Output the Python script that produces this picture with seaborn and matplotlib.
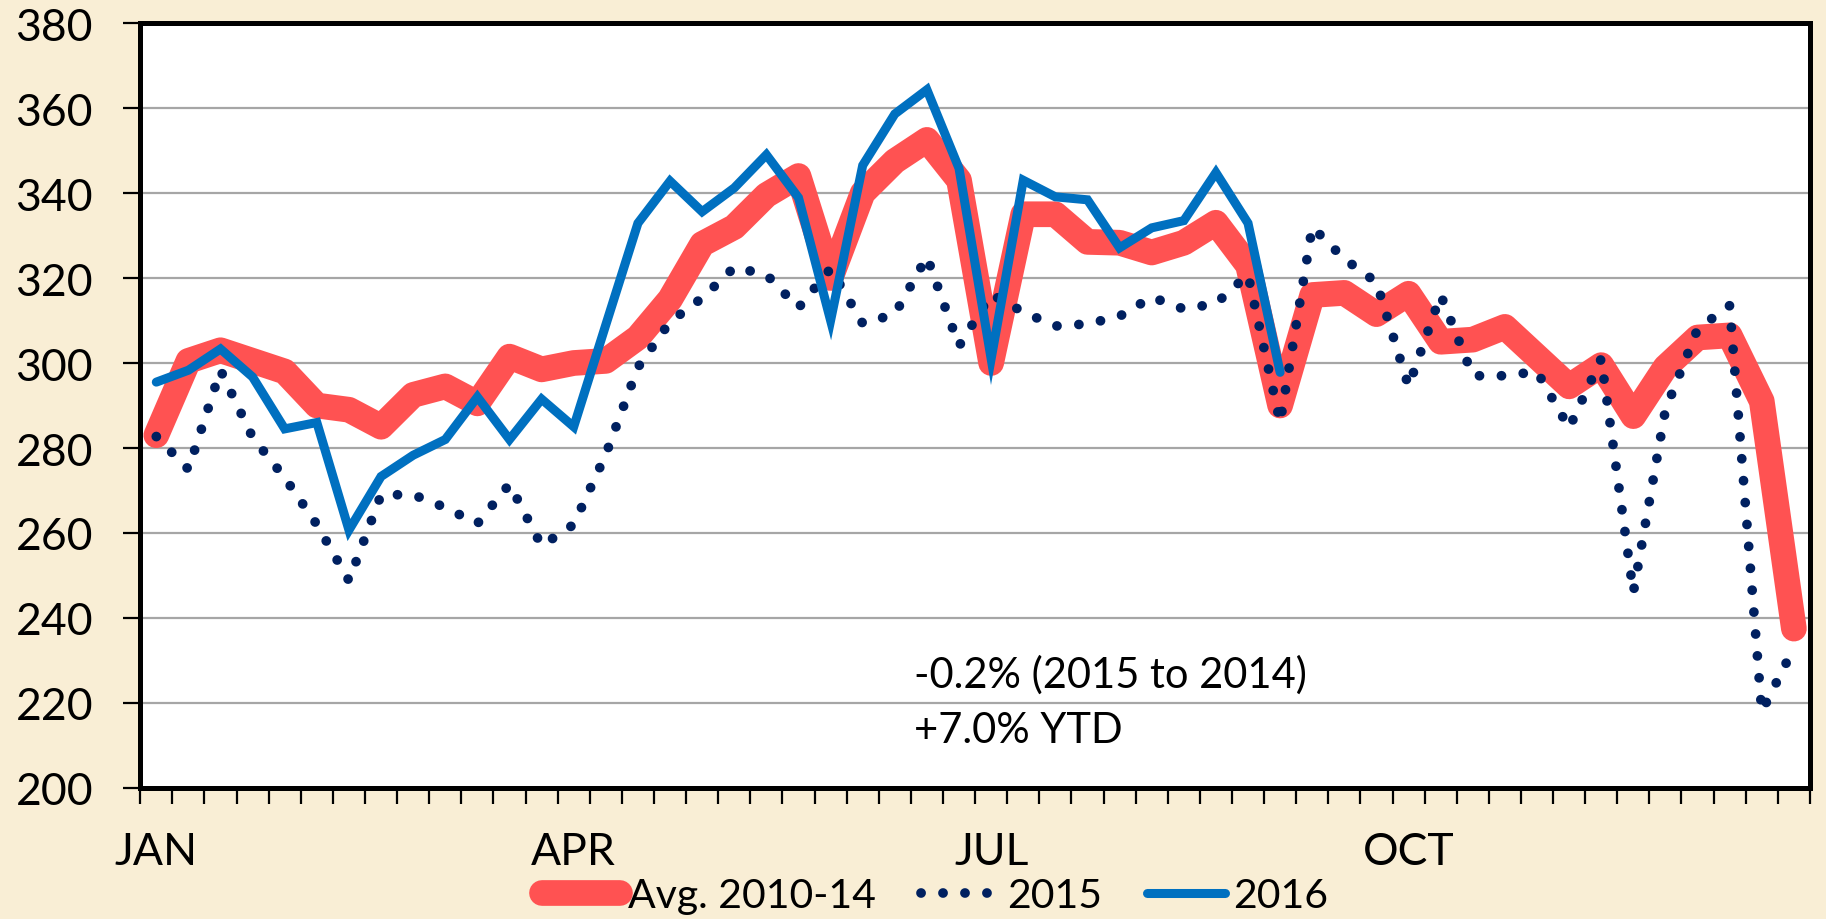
import numpy as np
import pandas as pd
import matplotlib
matplotlib.use("Agg")
import matplotlib.pyplot as plt
import seaborn as sns

# ---------------- data ----------------
weeks = list(range(52))
month_labels = ["JAN", "APR", "JUL", "OCT"]
month_positions = [0, 13, 26, 39]

avg_2010_14 = [283, 300.5, 303, 300.5, 298, 290, 289, 285, 292.5, 294.5,
               290.5, 301.5, 298.5, 300, 300.5, 306, 315, 328, 332, 339.5,
               344, 320, 340, 347.5, 352.5, 343, 300, 335, 335, 328.5,
               328.3, 326, 328.3, 333, 323, 290, 316, 316.5, 311.5, 316.3,
               305, 305.5, 308.5, 301.5, 294.5, 299.5, 287.5, 299, 306, 306.5,
               291, 237.5]

y2015 = [282.7, 275, 298.3, 282.5, 273, 262, 248.8, 269, 269, 266,
         262.2, 271.5, 257, 262, 278.5, 299, 309.7, 315.3, 322.5, 320.8,
         313, 322.2, 309.3, 311.5, 325, 304, 316.2, 312, 308.7, 309.2,
         311, 315.5, 312.7, 314, 320.8, 286, 332, 324.5, 319, 294.5,
         316, 297, 297, 298, 284.7, 301, 246, 289, 308, 313.5,
         218, 233]

y2016 = [295.5, 298.3, 303.3, 296.7, 284.5, 286, 260.7, 273.3, 278.3, 282,
         292, 282, 291.5, 285, 309, 332.9, 342.8, 335.6, 341.2, 349,
         338.9, 310, 346.5, 358.6, 364.3, 345.8, 301, 343, 339.1, 338.4,
         327.1, 331.8, 333.5, 344.8, 332.9, 297.8]

series_names = ["Avg. 2010-14", "2015", "2016"]
annotation_lines = ["-0.2% (2015 to 2014)", "+7.0% YTD"]

# ---------------- style ----------------
sns.set_style("white")
plt.rcParams["font.family"] = ["Lato", "DejaVu Sans"]
plt.rcParams["text.color"] = "black"
plt.rcParams["xtick.color"] = "black"
plt.rcParams["ytick.color"] = "black"
plt.rcParams["xtick.labelcolor"] = "black"
plt.rcParams["ytick.labelcolor"] = "black"

RED = "#FF5252"
NAVY = "#002060"
BLUE = "#0070C0"
BG = "#F9EED5"

fig = plt.figure(figsize=(18.26, 9.2), dpi=100)
fig.patch.set_facecolor(BG)
ax = fig.add_axes([0.0768, 0.1424, 0.9144, 0.8315])
ax.set_facecolor("white")

df_avg = pd.DataFrame({"week": weeks, "value": avg_2010_14})
df_15 = pd.DataFrame({"week": weeks, "value": y2015})
df_16 = pd.DataFrame({"week": weeks[:len(y2016)], "value": y2016})

sns.lineplot(data=df_avg, x="week", y="value", ax=ax, color=RED,
             linewidth=18.5, solid_capstyle="round", solid_joinstyle="round",
             label=series_names[0], zorder=3)
sns.lineplot(data=df_15, x="week", y="value", ax=ax, color=NAVY,
             linewidth=7, linestyle=(0, (0.01, 2.25)), dash_capstyle="round",
             label=series_names[1], zorder=4)
sns.lineplot(data=df_16, x="week", y="value", ax=ax, color=BLUE,
             linewidth=6.5, solid_capstyle="round", solid_joinstyle="miter",
             label=series_names[2], zorder=5)

ax.set_xlim(-0.5, 51.5)
ax.set_ylim(200, 380)
ax.set_yticks(np.arange(200, 381, 20))
ax.set_xticks(month_positions)
ax.set_xticklabels(month_labels)
ax.set_xticks(np.arange(-0.5, 52, 1), minor=True)
ax.set_xlabel("")
ax.set_ylabel("")

ax.yaxis.grid(True, color="#A6A6A6", linewidth=1.6)
ax.xaxis.grid(False)
ax.set_axisbelow(True)

for sp in ax.spines.values():
    sp.set_visible(True)
    sp.set_color("black")
    sp.set_linewidth(3.6)

ax.tick_params(axis="y", which="major", direction="out", length=12, width=1.6,
               color="black", labelcolor="black", labelsize=32, pad=22,
               left=True)
ax.tick_params(axis="x", which="major", length=0, labelsize=32, pad=31,
               labelcolor="black", bottom=True)
ax.tick_params(axis="x", which="minor", direction="out", length=11.5,
               width=1.6, color="black", bottom=True)

ax.text(23.6, 226.8, annotation_lines[0], fontsize=30, va="center",
        ha="left", color="black", zorder=6)
ax.text(23.6, 213.6, annotation_lines[1], fontsize=30, va="center",
        ha="left", color="black", zorder=6)

handles, labels = ax.get_legend_handles_labels()
if ax.get_legend() is not None:
    ax.get_legend().remove()
leg = fig.legend(handles, labels, loc="center", bbox_to_anchor=(0.512, 0.025),
                 ncol=3, frameon=False, fontsize=29.5, handlelength=1.9,
                 handletextpad=0.2, columnspacing=1.1, borderaxespad=0)
for t in leg.get_texts():
    t.set_color("black")

fig.savefig("out.png", dpi=100, facecolor=fig.get_facecolor())
